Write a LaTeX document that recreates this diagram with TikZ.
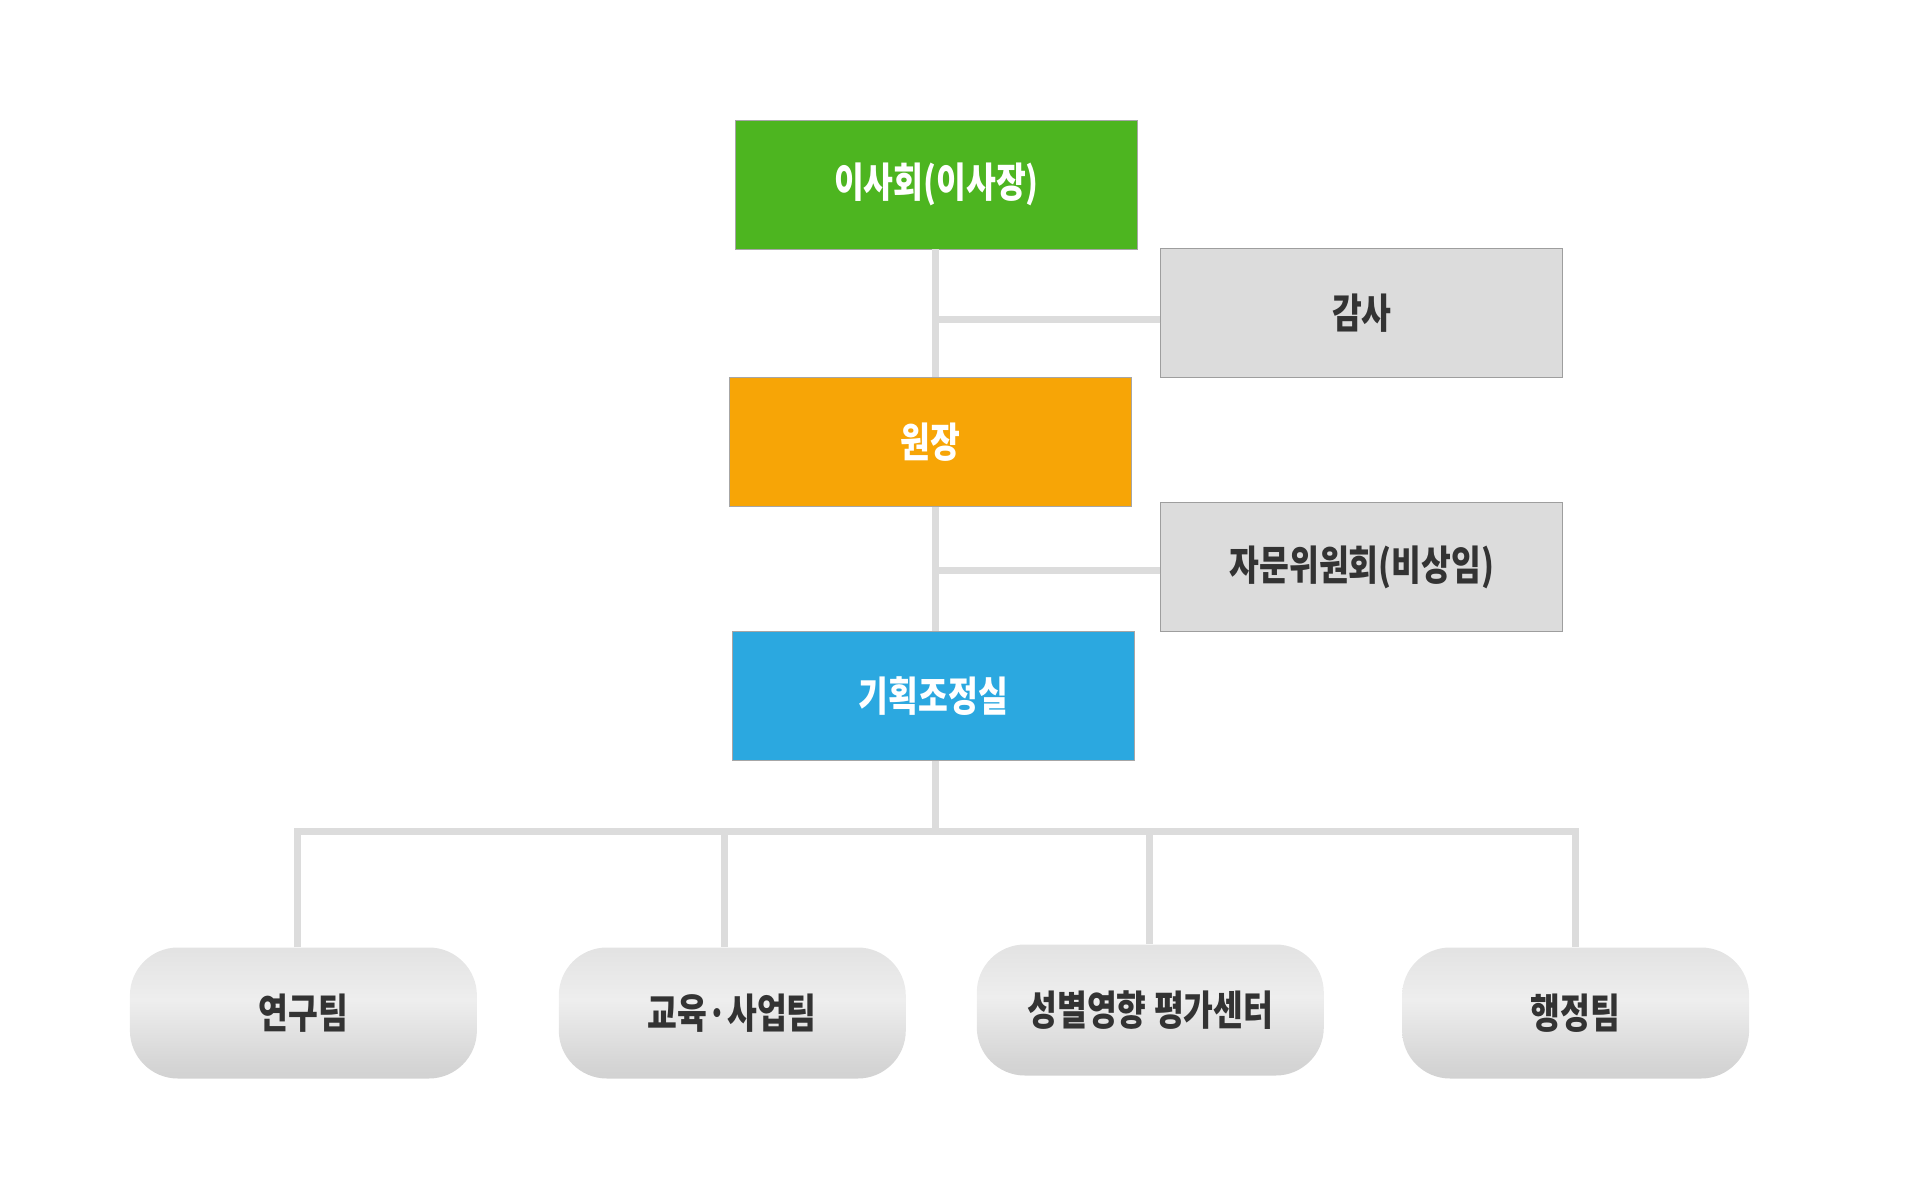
\documentclass[tikz,border=0pt]{standalone}
\usepackage{fontspec}
\newfontfamily\kr[FakeStretch=0.79]{Noto Sans CJK KR}
\definecolor{cgreen}{HTML}{4DB520}
\definecolor{corange}{HTML}{F7A506}
\definecolor{cblue}{HTML}{2BA8E0}
\definecolor{cgray}{HTML}{DCDCDC}
\definecolor{cline}{HTML}{DCDCDC}
\definecolor{ctext}{HTML}{333333}
\definecolor{gtop}{HTML}{D6D6D6}
\definecolor{gmid}{HTML}{EEEEEE}
\definecolor{gbot}{HTML}{C4C4C4}
\pgfdeclareverticalshading{btnshade}{100bp}{color(0bp)=(gbot); color(30bp)=(gbot!60!gmid); color(55bp)=(gmid); color(80bp)=(gtop!60!gmid); color(100bp)=(gtop)}
\tikzset{
  lbl/.style={font=\kr\bfseries\fontsize{41}{46}\selectfont},
  topbox/.style={lbl, minimum width=402pt, minimum height=129pt, inner sep=0pt, draw=black!35, line width=0.8pt, text=white},
  sidebox/.style={lbl, minimum width=402pt, minimum height=129pt, inner sep=0pt, fill=cgray, draw=black!38, line width=0.8pt, text=ctext},
  teambox/.style={lbl, minimum width=347pt, minimum height=131pt, inner sep=0pt, rounded corners=48pt, shading=btnshade, text=ctext},
  conn/.style={draw=cline, line width=7pt},
}
\begin{document}
\begin{tikzpicture}[x=1pt,y=-1pt]
\useasboundingbox (0,0) rectangle (1920,1186);
\coordinate (t) at (935,0);
\coordinate (bus) at (0,831);
% nodes
\node[topbox, fill=cgreen] (green) at (936.4,184.5) {이사회(이사장)};
\node[sidebox] (gamsa) at (1361.8,313.2) {감사};
\node[topbox, fill=corange] (orange) at (930.3,441.9) {원장};
\node[sidebox] (jamun) at (1361.8,566.9) {자문위원회(비상임)};
\node[topbox, fill=cblue] (blue) at (933.4,695.6) {기획조정실};
\coordinate (d1) at (297.8,831);
\coordinate (d2) at (724.4,831);
\coordinate (d3) at (1149.7,831);
\coordinate (d4) at (1575,831);
\node[teambox] (b1) at (303.4,1013) {연구팀};
\node[teambox] (b2) at (732.3,1013) {교육·사업팀};
\node[teambox] (b3) at (1150.3,1010) {성별영향 평가센터};
\node[teambox] (b4) at (1575.6,1013) {행정팀};
% connectors
\draw[conn] (green.south -| t) -- (orange.north -| t);
\draw[conn] (orange.south -| t) -- (blue.north -| t);
\draw[conn] ([yshift=-6.7pt]gamsa.west) -- ([yshift=-6.7pt]gamsa.west -| t);
\draw[conn] ([yshift=-3.5pt]jamun.west) -- ([yshift=-3.5pt]jamun.west -| t);
\draw[conn] (blue.south -| t) -- (t |- bus);
\draw[conn] (d1 |- b1.north) -- (d1) -- (d4) -- (d4 |- b4.north);
\draw[conn] (d2) -- (d2 |- b2.north);
\draw[conn] (d3) -- (d3 |- b3.north);
\end{tikzpicture}
\end{document}
